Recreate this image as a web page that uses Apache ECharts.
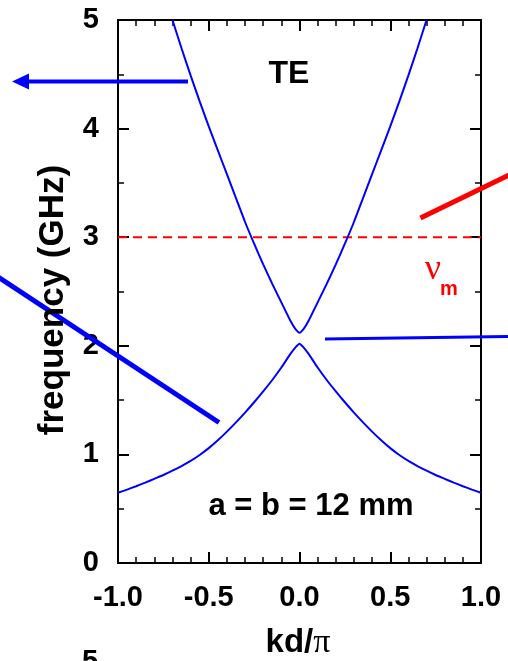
<!DOCTYPE html>
<html>
<head>
<meta charset="utf-8">
<script src="https://cdn.jsdelivr.net/npm/echarts@6/dist/echarts.min.js"></script>
<style>html,body{margin:0;padding:0;background:#fff}#c{width:508px;height:661px}</style>
</head>
<body>
<div id="c"></div>
<script>
// ---- data ----
var kUpper = [-0.70,-0.65,-0.60,-0.55,-0.50,-0.45,-0.40,-0.35,-0.30,-0.25,-0.20,-0.15,-0.10,-0.05,-0.025,0,0.025,0.05,0.10,0.15,0.20,0.25,0.30,0.35,0.40,0.45,0.50,0.55,0.60,0.65,0.70];
var fUpper = [5.00,4.74,4.49,4.25,4.02,3.80,3.58,3.36,3.14,2.94,2.75,2.57,2.40,2.23,2.16,2.12,2.16,2.23,2.40,2.57,2.75,2.94,3.14,3.36,3.58,3.80,4.02,4.25,4.49,4.74,5.00];
var kLower = [-1.00,-0.95,-0.90,-0.85,-0.80,-0.75,-0.70,-0.65,-0.60,-0.55,-0.50,-0.45,-0.40,-0.35,-0.30,-0.25,-0.20,-0.15,-0.10,-0.05,-0.02,0,0.02,0.05,0.10,0.15,0.20,0.25,0.30,0.35,0.40,0.45,0.50,0.55,0.60,0.65,0.70,0.75,0.80,0.85,0.90,0.95,1.00];
var fLower = [0.647,0.676,0.707,0.740,0.775,0.810,0.850,0.893,0.940,0.995,1.058,1.13,1.21,1.295,1.385,1.48,1.58,1.685,1.80,1.925,1.99,2.02,1.99,1.925,1.80,1.685,1.58,1.48,1.385,1.295,1.21,1.13,1.058,0.995,0.940,0.893,0.850,0.810,0.775,0.740,0.707,0.676,0.647];
var nuM = 3.0;                 // dashed frequency line
var xRange = [-1, 1];
var xTickLabels = ['-1.0','-0.5','0.0','0.5','1.0'];
var yTickLabels = ['0','1','2','3','4','5'];

function pairs(xs, ys){ return xs.map(function(x,i){ return [x, ys[i]]; }); }

var FONT = 'Arial, "Liberation Sans", sans-serif';
var chart = echarts.init(document.getElementById('c'), null, {renderer:'canvas'});

var axisCommon = {
  axisLine:{show:true, onZero:false, lineStyle:{color:'#000', width:2}},
  splitLine:{show:false},
  axisTick:{show:true, inside:true, length:11, lineStyle:{color:'#000', width:2}},
  minorTick:{show:true, length:6, lineStyle:{color:'#000', width:1.5}},
  minorSplitLine:{show:false}
};

var option = {
  animation:false,
  backgroundColor:'#fff',
  grid:{left:118, right:27, top:20, bottom:98, containLabel:false},
  xAxis:[
    Object.assign({}, axisCommon, {
      type:'value', min:xRange[0], max:xRange[1], interval:0.5, position:'bottom',
      minorTick:Object.assign({}, axisCommon.minorTick, {splitNumber:5}),
      axisLabel:{show:true, margin:20, color:'#000', fontSize:29, fontWeight:'bold', fontFamily:FONT,
        formatter:function(v){ return xTickLabels[Math.round((v - xRange[0]) / 0.5)]; }}
    }),
    Object.assign({}, axisCommon, {
      type:'value', min:xRange[0], max:xRange[1], interval:0.5, position:'top',
      minorTick:Object.assign({}, axisCommon.minorTick, {splitNumber:5}),
      axisLabel:{show:false}
    })
  ],
  yAxis:[
    Object.assign({}, axisCommon, {
      type:'value', min:0, max:5, interval:1, position:'left',
      minorTick:Object.assign({}, axisCommon.minorTick, {splitNumber:2}),
      axisLabel:{show:true, margin:19, color:'#000', fontSize:29, fontWeight:'bold', fontFamily:FONT,
        formatter:function(v){ return yTickLabels[Math.round(v)]; }}
    }),
    Object.assign({}, axisCommon, {
      type:'value', min:0, max:5, interval:1, position:'right',
      minorTick:Object.assign({}, axisCommon.minorTick, {splitNumber:2}),
      axisLabel:{show:false}
    })
  ],
  series:[
    {type:'line', data:pairs(kUpper,fUpper), smooth:0.2, showSymbol:false, clip:true,
     lineStyle:{color:'#0000ff', width:2}, z:3},
    {type:'line', data:pairs(kLower,fLower), smooth:0.2, showSymbol:false, clip:true,
     lineStyle:{color:'#0000ff', width:2}, z:3},
    {type:'line', data:[[xRange[0],nuM],[xRange[1],nuM]], showSymbol:false,
     lineStyle:{color:'#ff0000', width:2, type:[9,6]}, z:2}
  ],
  graphic:[
    // callout lines (decorative, outside data)
    {type:'line', shape:{x1:188,y1:81.5,x2:26,y2:81.5}, style:{stroke:'#0000ff', lineWidth:4}, z:10},
    {type:'polygon', shape:{points:[[12,81.5],[29,73.5],[29,89.5]]}, style:{fill:'#0000ff'}, z:10},
    {type:'line', shape:{x1:-2,y1:277,x2:219,y2:422.5}, style:{stroke:'#0000ff', lineWidth:5}, z:10},
    {type:'line', shape:{x1:325,y1:339,x2:510,y2:336.5}, style:{stroke:'#0000ff', lineWidth:3}, z:10},
    {type:'line', shape:{x1:420.5,y1:218,x2:510,y2:174.5}, style:{stroke:'#ff0000', lineWidth:5}, z:10},
    // texts
    {type:'text', x:289, y:74, style:{text:'TE', font:'bold 32px '+FONT, fill:'#000', textAlign:'center', textVerticalAlign:'middle'}, z:10},
    {type:'text', x:311, y:506, style:{text:'a = b = 12 mm', font:'bold 31px '+FONT, fill:'#000', textAlign:'center', textVerticalAlign:'middle'}, z:10},
    {type:'text', x:433, y:270, style:{text:'\u03BD', font:'36px "Liberation Serif", "DejaVu Serif", serif', fill:'#ff0000', textAlign:'center', textVerticalAlign:'middle'}, z:10},
    {type:'text', x:449, y:289, style:{text:'m', font:'bold 20px '+FONT, fill:'#ff0000', textAlign:'center', textVerticalAlign:'middle'}, z:10},
    {type:'text', x:53, y:300, rotation:Math.PI/2, style:{text:'frequency (GHz)', font:'bold 35px '+FONT, fill:'#000', textAlign:'center', textVerticalAlign:'middle'}, z:10},
    {type:'text', x:298, y:643, style:{
      text:'{a|kd/}{b|\u03C0}', textAlign:'center', textVerticalAlign:'middle',
      rich:{a:{font:'bold 33px '+FONT, fill:'#000'}, b:{font:'34px "Liberation Serif", "DejaVu Serif", serif', fill:'#000'}}}, z:10},
    {type:'text', x:90, y:662, style:{text:'5', font:'bold 29px '+FONT, fill:'#000', textAlign:'center', textVerticalAlign:'middle'}, z:10}
  ]
};
chart.setOption(option);
</script>
</body>
</html>
